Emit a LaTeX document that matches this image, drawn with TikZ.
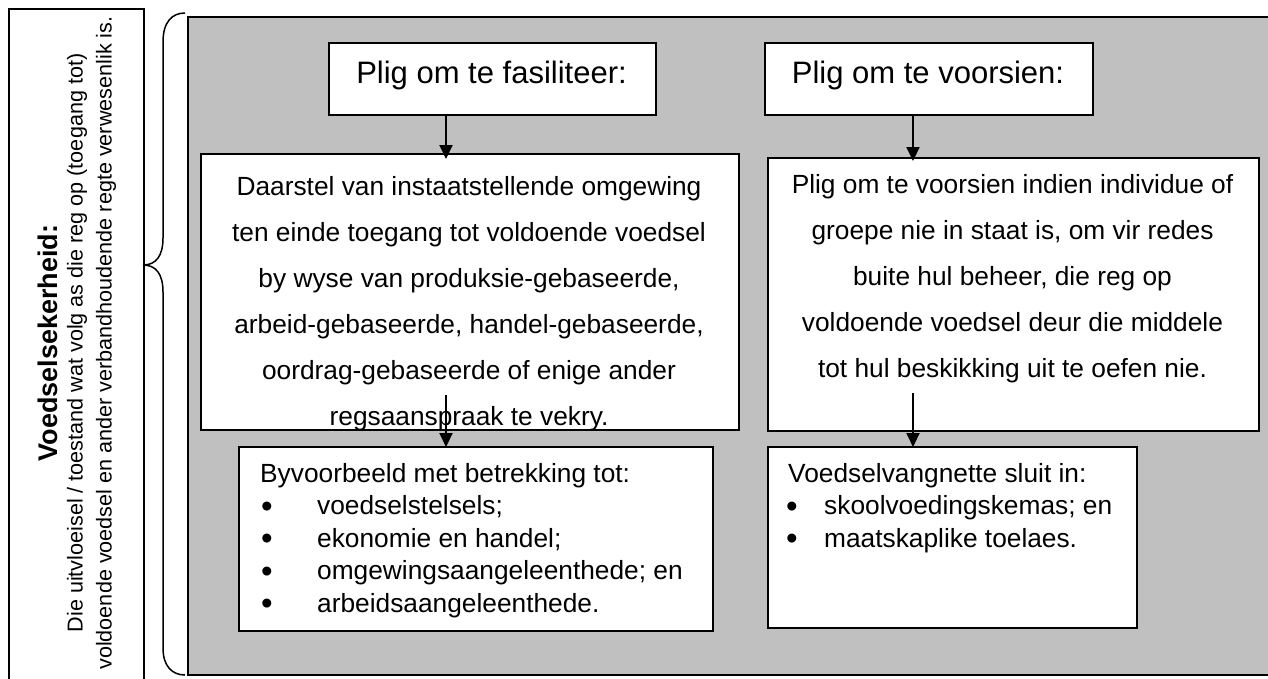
\documentclass[tikz,border=0pt]{standalone}
\usepackage{fontspec}
\setmainfont{Liberation Sans}
\usetikzlibrary{arrows.meta}
\definecolor{bg}{RGB}{192,192,192}
\tikzset{
  boxline/.style={draw=black, line width=2pt, fill=white, inner sep=0pt, anchor=north west},
  conn/.style={line width=2pt, -{Triangle[length=14pt,width=13pt]}},
  txt/.style={inner sep=0pt},
  titlefont/.style={txt, anchor=base, font=\fontsize{31}{36}\selectfont},
  bodyfont/.style={txt, font=\fontsize{26.3}{30}\selectfont},
  bulletfont/.style={txt, anchor=base, font=\fontsize{33}{36}\selectfont},
  sidefont/.style={txt, rotate=90, font=\fontsize{21.6}{25}\selectfont},
}
\begin{document}
\begin{tikzpicture}[x=1pt,y=-1pt]
\useasboundingbox (0,0) rectangle (1268,678);
\clip (0,0) rectangle (1268,678);
\fill[white] (0,0) rectangle (1268,678);

% left side box
\node[draw=black, line width=1.5pt, minimum width=135pt, minimum height=700pt, inner sep=0pt, anchor=north west] (side) at (8,8) {};
\node[txt, rotate=90, font=\bfseries\fontsize{27}{30}\selectfont] (sidetitle) at (48,343) {Voedselsekerheid:};
\node[sidefont] (side1) at (77,343) {Die uitvloeisel / toestand wat volg as die reg op (toegang tot)};
\node[sidefont] (side2) at (106,343) {voldoende voedsel en ander verbandhoudende regte verwesenlik is.};

% grey panel
\node[draw=black, fill=bg, line width=2pt, minimum width=1110pt, minimum height=658pt, inner sep=0pt, anchor=north west] (panel) at (187,16) {};

% brace
\draw[line width=1.5pt] (185,13) .. controls (172,13) and (163,22) .. (163,42)
  -- (163,238) .. controls (163,256) and (156,265) .. (143,265)
  .. controls (156,265) and (163,274) .. (163,292)
  -- (163,648) .. controls (163,666) and (172,675) .. (185,675);

% top boxes
\node[boxline, minimum width=327pt, minimum height=72pt] (fas) at (328,42) {};
\node[titlefont] (fast) at (491.5,83) {Plig om te fasiliteer:};
\node[boxline, minimum width=328pt, minimum height=72pt] (voo) at (764,42) {};
\node[titlefont] (voot) at (928,83) {Plig om te voorsien:};

% big boxes
\node[boxline, minimum width=538pt, minimum height=276pt] (bigL) at (200,153) {};
\begin{scope}
\clip (bigL.north west) rectangle ([yshift=1pt]bigL.south east);
\foreach \t [count=\i] in {{Daarstel van instaatstellende omgewing},{ten einde toegang tot voldoende voedsel},{by wyse van produksie-gebaseerde,},{arbeid-gebaseerde, handel-gebaseerde,},{oordrag-gebaseerde of enige ander},{regsaanspraak te vekry.}}
  \node[bodyfont, anchor=base] (bl\i) at (469,149+46*\i) {\t};
\end{scope}

\node[boxline, minimum width=491pt, minimum height=273pt] (bigR) at (767,157) {};
\foreach \t [count=\i] in {{Plig om te voorsien indien individue of},{groepe nie in staat is, om vir redes},{buite hul beheer, die reg op},{voldoende voedsel deur die middele},{tot hul beskikking uit te oefen nie.}}
  \node[bodyfont, anchor=base] (br\i) at (1012.5,147+46*\i) {\t};

% lower boxes
\node[boxline, minimum width=474pt, minimum height=184pt] (lowL) at (238,446) {};
\node[bodyfont, anchor=base west] (lh) at (260,482) {Byvoorbeeld met betrekking tot:};
\foreach \t [count=\i] in {{voedselstelsels;},{ekonomie en handel;},{omgewingsaangeleenthede; en},{arbeidsaangeleenthede.}}{
  \node[bulletfont] (lb\i) at (267,484.5+32.5*\i) {•};
  \node[bodyfont, anchor=base west] (lt\i) at (317,482+32.5*\i) {\t};
}

\node[boxline, minimum width=369pt, minimum height=181pt] (lowR) at (767,446) {};
\node[bodyfont, anchor=base west] (rh) at (788,482) {Voedselvangnette sluit in:};
\foreach \t [count=\i] in {{skoolvoedingskemas; en},{maatskaplike toelaes.}}{
  \node[bulletfont] (rb\i) at (792,484.5+32.5*\i) {•};
  \node[bodyfont, anchor=base west] (rt\i) at (824,482+32.5*\i) {\t};
}

% connectors
\coordinate (xl) at (446,0);
\coordinate (xr) at (913,0);
\draw[conn, shorten >=-6pt] (fas.south -| xl) -- (bigL.north -| xl);
\draw[conn, shorten >=-4pt] (voo.south -| xr) -- (bigR.north -| xr);
\coordinate (sL) at (446,395);
\coordinate (sR) at (913,393);
\draw[conn, shorten >=-1pt] (sL) -- (lowL.north -| sL);
\draw[conn, shorten >=-1pt] (sR) -- (lowR.north -| sR);
\end{tikzpicture}
\end{document}
